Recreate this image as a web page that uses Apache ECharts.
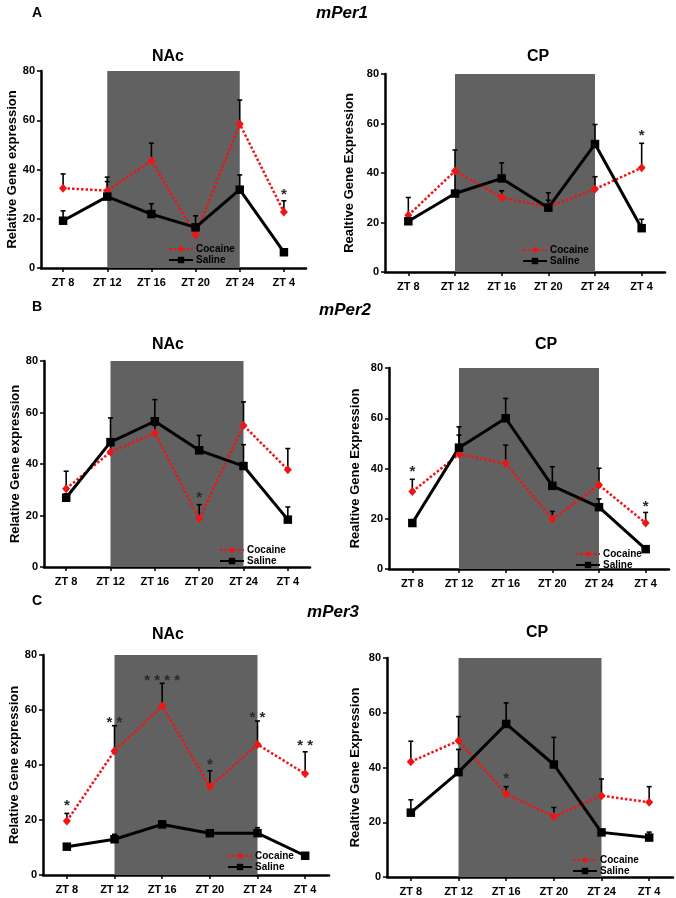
<!DOCTYPE html>
<html><head><meta charset="utf-8">
<script src="https://cdn.jsdelivr.net/npm/echarts@6/dist/echarts.min.js"></script>
<style>html,body{margin:0;padding:0;background:#fff}#c{width:676px;height:898px}</style>
</head><body><div id="c"></div>
<script>
// ---------- DATA ----------
const categories = ['ZT 8', 'ZT 12', 'ZT 16', 'ZT 20', 'ZT 24', 'ZT 4'];
const yMin = 0, yMax = 80, yStep = 20;
const shadeFrom = 'ZT 12', shadeTo = 'ZT 24';
const seriesNames = ['Cocaine', 'Saline'];
const geneLabels = ['mPer1', 'mPer2', 'mPer3'];
const rowLetters = ['A', 'B', 'C'];
const regionTitles = ['NAc', 'CP'];
const yNameNAc = 'Relative Gene expression';
const yNameCP = 'Realtive Gene Expression';

// mPer1 NAc
const per1NAcCocaine = [32.4, 31.4, 43.6, 13.5, 58.5, 22.7];
const per1NAcCocaineSem = [5.8, 5.5, 7.1, 4.0, 9.7, 4.6];
const per1NAcSaline = [19.2, 29.0, 21.9, 16.5, 31.8, 6.4];
const per1NAcSalineSem = [4.0, 6.1, 4.2, 4.7, 6.0, 1.0];
const per1NAcStars = ['', '', '', '', '', '*'];
const per1NAcStarY = [0, 0, 0, 0, 0, 31.5];
// mPer1 CP
const per1CPCocaine = [22.9, 40.8, 30.1, 26.3, 33.5, 42.1];
const per1CPCocaineSem = [7.2, 8.5, 2.7, 2.7, 5.0, 9.9];
const per1CPSaline = [20.5, 31.7, 37.8, 26.0, 51.7, 17.7];
const per1CPSalineSem = [2.5, 9.0, 6.3, 6.0, 7.9, 3.6];
const per1CPStars = ['', '', '', '', '', '*'];
const per1CPStarY = [0, 0, 0, 0, 0, 56.7];
// mPer2 NAc
const per2NAcCocaine = [30.4, 44.7, 52.0, 18.8, 55.0, 37.8];
const per2NAcCocaineSem = [6.8, 3.0, 3.0, 5.4, 9.1, 8.2];
const per2NAcSaline = [26.9, 48.5, 56.6, 45.3, 39.2, 18.4];
const per2NAcSalineSem = [1.5, 9.4, 8.4, 5.8, 8.3, 4.9];
const per2NAcStars = ['', '', '', '*', '', ''];
const per2NAcStarY = [0, 0, 0, 28.5, 0, 0];
// mPer2 CP
const per2CPCocaine = [30.8, 45.7, 42.0, 19.8, 33.4, 18.3];
const per2CPCocaineSem = [4.9, 7.6, 7.3, 3.1, 6.7, 4.2];
const per2CPSaline = [18.3, 48.3, 60.0, 33.1, 24.6, 7.9];
const per2CPSalineSem = [1.0, 8.3, 7.9, 7.6, 3.3, 1.1];
const per2CPStars = ['*', '', '', '', '', '*'];
const per2CPStarY = [40.3, 0, 0, 0, 0, 26.5];
// mPer3 NAc
const per3NAcCocaine = [19.6, 45.1, 61.5, 32.1, 47.5, 36.8];
const per3NAcCocaineSem = [2.8, 9.2, 8.2, 5.8, 8.5, 8.0];
const per3NAcSaline = [10.3, 13.0, 18.4, 15.2, 15.2, 7.0];
const per3NAcSalineSem = [0.8, 1.8, 1.2, 0.8, 2.0, 0.5];
const per3NAcStars = ['*', '**', '****', '*', '**', '**'];
const per3NAcStarY = [26.7, 56.7, 71.9, 41.5, 58.5, 48.5];
// mPer3 CP
const per3CPCocaine = [42.1, 49.8, 30.3, 22.1, 29.7, 27.3];
const per3CPCocaineSem = [7.5, 8.8, 2.7, 3.3, 6.1, 5.7];
const per3CPSaline = [23.5, 38.3, 55.9, 41.1, 16.3, 14.4];
const per3CPSalineSem = [4.7, 8.3, 7.7, 9.9, 0.9, 2.0];
const per3CPStars = ['', '', '*', '', '', ''];
const per3CPStarY = [0, 0, 37.3, 0, 0, 0];

const panels = [
  { coc: per1NAcCocaine, cocSem: per1NAcCocaineSem, sal: per1NAcSaline, salSem: per1NAcSalineSem, stars: per1NAcStars, starY: per1NAcStarY, title: regionTitles[0], yName: yNameNAc },
  { coc: per1CPCocaine, cocSem: per1CPCocaineSem, sal: per1CPSaline, salSem: per1CPSalineSem, stars: per1CPStars, starY: per1CPStarY, title: regionTitles[1], yName: yNameCP },
  { coc: per2NAcCocaine, cocSem: per2NAcCocaineSem, sal: per2NAcSaline, salSem: per2NAcSalineSem, stars: per2NAcStars, starY: per2NAcStarY, title: regionTitles[0], yName: yNameNAc },
  { coc: per2CPCocaine, cocSem: per2CPCocaineSem, sal: per2CPSaline, salSem: per2CPSalineSem, stars: per2CPStars, starY: per2CPStarY, title: regionTitles[1], yName: yNameCP },
  { coc: per3NAcCocaine, cocSem: per3NAcCocaineSem, sal: per3NAcSaline, salSem: per3NAcSalineSem, stars: per3NAcStars, starY: per3NAcStarY, title: regionTitles[0], yName: yNameNAc },
  { coc: per3CPCocaine, cocSem: per3CPCocaineSem, sal: per3CPSaline, salSem: per3CPSalineSem, stars: per3CPStars, starY: per3CPStarY, title: regionTitles[1], yName: yNameCP }
];

// ---------- LAYOUT ----------
const FONT = '"Liberation Sans", Arial, Helvetica, sans-serif';
const RED = '#f01414';
const SHADE = '#616161';
const grids = [
  { left: 41, top: 71, width: 265, height: 197 },
  { left: 385, top: 74, width: 280, height: 198 },
  { left: 44, top: 361, width: 266, height: 206 },
  { left: 389, top: 368, width: 280, height: 201 },
  { left: 43, top: 655, width: 286, height: 220 },
  { left: 387, top: 658, width: 286, height: 219 }
];
const nameGaps = [16, 29, 16, 27, 16, 25];
const titlePos = [[168, 57], [538, 57], [168, 345], [546, 345], [168, 635], [537, 633]];
const legendPos = [[168, 244], [522, 245], [219, 545], [575, 549], [227, 851], [572, 855]];
const letterPos = [[37, 13], [37, 307], [37, 601]];
const genePos = [[342, 13], [345, 310], [333, 612]];

const xAxes = [], yAxes = [], series = [], legends = [], graphics = [];

function errRender(params, api) {
  const x = api.value(0);
  const p1 = api.coord([x, api.value(1)]);
  const p2 = api.coord([x, api.value(2)]);
  const w = 2.5;
  return {
    type: 'group', children: [
      { type: 'line', shape: { x1: p1[0], y1: p1[1], x2: p2[0], y2: p2[1] }, style: { stroke: '#000', lineWidth: 1.6 } },
      { type: 'line', shape: { x1: p2[0] - w, y1: p2[1], x2: p2[0] + w, y2: p2[1] }, style: { stroke: '#000', lineWidth: 1.6 } }
    ]
  };
}

panels.forEach((pn, i) => {
  xAxes.push({
    type: 'category', gridIndex: i, data: categories, boundaryGap: true,
    axisLine: { show: true, lineStyle: { color: '#000', width: 2.5 } },
    axisTick: { show: true, alignWithLabel: true, length: 4, lineStyle: { color: '#000', width: 1.5 } },
    axisLabel: { color: '#000', fontFamily: FONT, fontWeight: 'bold', fontSize: 11, margin: 9, interval: 0 },
    splitLine: { show: false }
  });
  yAxes.push({
    type: 'value', gridIndex: i, min: yMin, max: yMax, interval: yStep,
    name: pn.yName, nameLocation: 'middle', nameGap: nameGaps[i],
    nameTextStyle: { color: '#000', fontFamily: FONT, fontWeight: 'bold', fontSize: 13 },
    axisLine: { show: true, lineStyle: { color: '#000', width: 2.5 } },
    axisTick: { show: true, length: 4, lineStyle: { color: '#000', width: 1.5 } },
    axisLabel: { color: '#000', fontFamily: FONT, fontWeight: 'bold', fontSize: 11, margin: 6 },
    splitLine: { show: false }
  });
  const errData = [];
  pn.coc.forEach((v, k) => errData.push([k, v, v + pn.cocSem[k]]));
  pn.sal.forEach((v, k) => errData.push([k, v, v + pn.salSem[k]]));
  series.push({
    type: 'custom', name: 'err' + i, xAxisIndex: i, yAxisIndex: i, silent: true, z: 2,
    renderItem: errRender, data: errData
  });
  series.push({
    type: 'line', name: seriesNames[0], xAxisIndex: i, yAxisIndex: i, data: pn.coc, z: 3,
    symbol: 'diamond', symbolSize: [8, 9], showSymbol: true,
    lineStyle: { color: RED, width: 2.5, type: [2.5, 2] },
    itemStyle: { color: RED },
    markArea: { silent: true, itemStyle: { color: SHADE }, data: [[{ xAxis: shadeFrom }, { xAxis: shadeTo }]] }
  });
  series.push({
    type: 'line', name: seriesNames[1], xAxisIndex: i, yAxisIndex: i, data: pn.sal, z: 3,
    symbol: 'rect', symbolSize: 8.5,
    lineStyle: { color: '#000', width: 3 },
    itemStyle: { color: '#000' }
  });
  const starData = [];
  pn.stars.forEach((s, k) => { if (s) starData.push([k, pn.starY[k], s]); });
  series.push({
    type: 'custom', name: 'stars' + i, xAxisIndex: i, yAxisIndex: i, silent: true, z: 4,
    data: starData.map(d => [d[0], d[1]]),
    renderItem: (params, api) => {
      const p = api.coord([api.value(0), api.value(1)]);
      const txt = starData[params.dataIndex][2].split('').join(' ');
      return { type: 'text', x: p[0], y: p[1] + 4, style: { text: txt, fill: '#2a2a2a', font: 'bold 15px ' + FONT, textAlign: 'center', textVerticalAlign: 'middle' } };
    }
  });
  legends.push({
    data: seriesNames, orient: 'vertical', left: legendPos[i][0], top: legendPos[i][1],
    itemWidth: 24, itemHeight: 8, itemGap: 1, selectedMode: false, padding: 0,
    textStyle: { color: '#000', fontFamily: FONT, fontWeight: 'bold', fontSize: 10, lineHeight: 10, padding: [0, 0, 0, -2] }
  });
  graphics.push({ type: 'text', x: titlePos[i][0], y: titlePos[i][1], style: { text: pn.title, fill: '#000', font: 'bold 16px ' + FONT, textAlign: 'center', textVerticalAlign: 'middle' } });
});
rowLetters.forEach((l, r) => {
  graphics.push({ type: 'text', x: letterPos[r][0], y: letterPos[r][1], style: { text: l, fill: '#000', font: 'bold 14px ' + FONT, textAlign: 'center', textVerticalAlign: 'middle' } });
  graphics.push({ type: 'text', x: genePos[r][0], y: genePos[r][1], style: { text: geneLabels[r], fill: '#000', font: 'italic bold 17px ' + FONT, textAlign: 'center', textVerticalAlign: 'middle' } });
});

const chart = echarts.init(document.getElementById('c'), null, { renderer: 'canvas' });
chart.setOption({
  backgroundColor: '#fff',
  animation: false,
  grid: grids.map(g => Object.assign({ containLabel: false }, g)),
  xAxis: xAxes, yAxis: yAxes, series: series, legend: legends, graphic: graphics
});
</script></body></html>
